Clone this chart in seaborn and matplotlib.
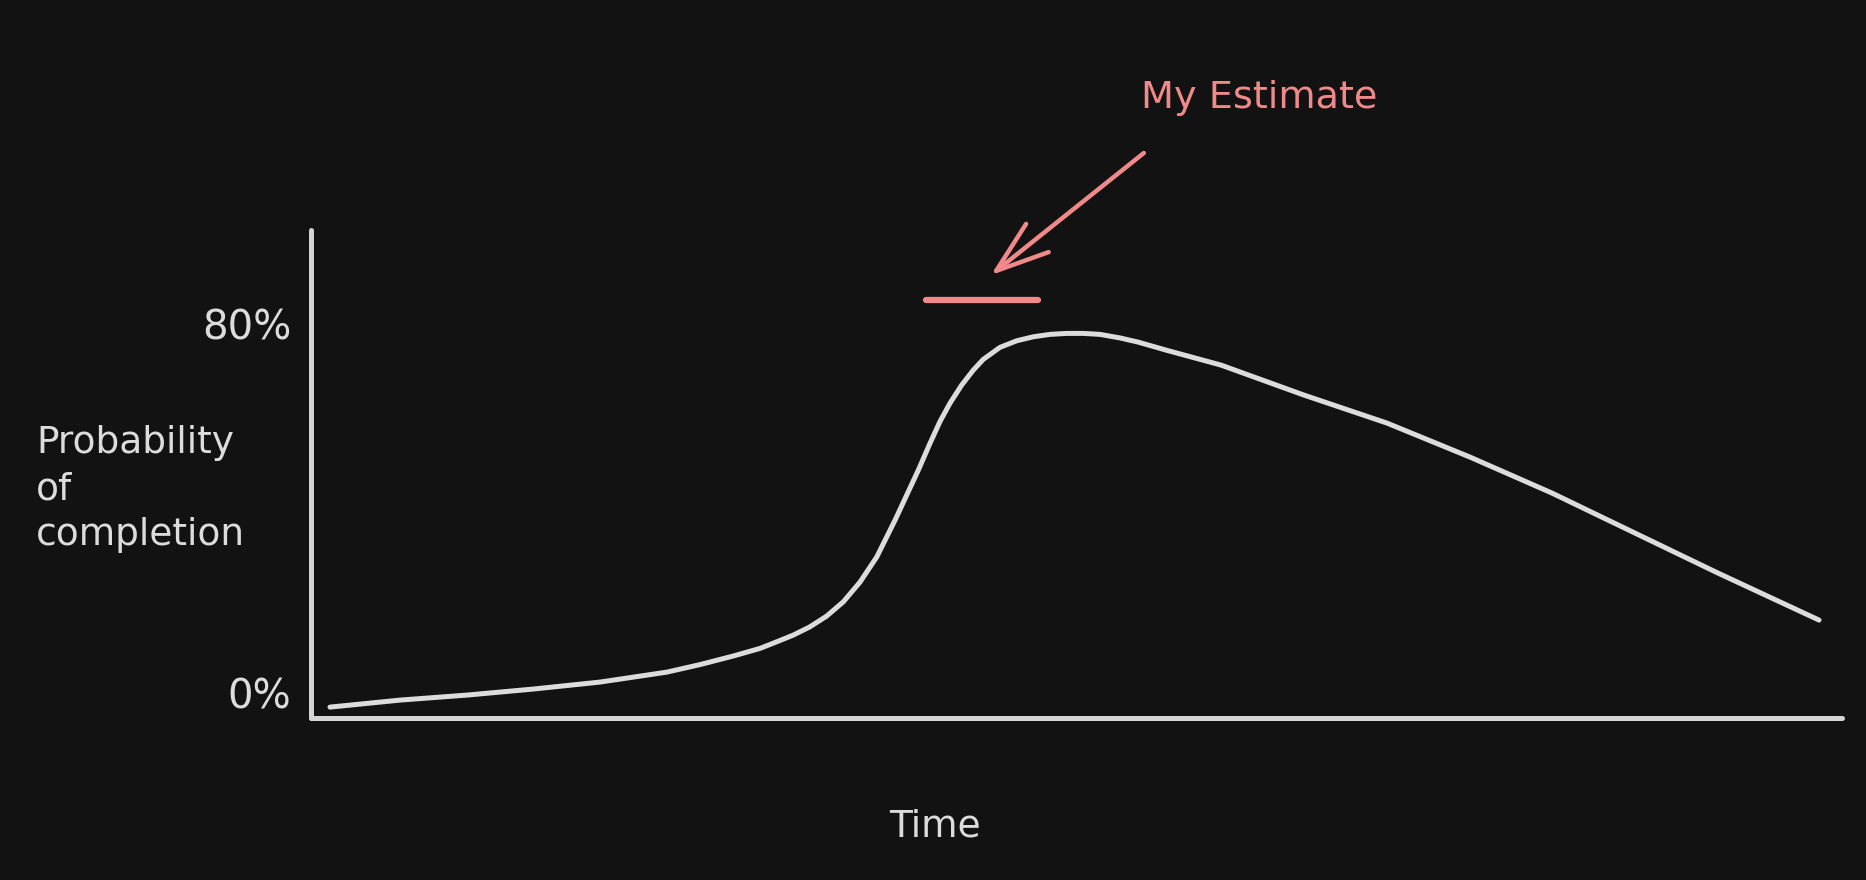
import matplotlib
matplotlib.use("Agg")
import matplotlib.pyplot as plt
import seaborn as sns
import pandas as pd

# ---- data ----
time = [1.24, 5.81, 10.19, 14.50, 18.88, 23.25, 25.41, 27.56, 29.33, 30.42,
        31.50, 32.59, 33.68, 34.77, 35.86, 36.95, 38.15, 38.91, 39.67, 40.43,
        41.08, 41.74, 42.50, 43.26, 43.91, 45.00, 46.09, 47.18, 48.27, 49.36,
        50.44, 51.54, 52.84, 54.02, 55.85, 59.44, 64.86, 70.28, 75.70, 81.06,
        86.48, 91.90, 98.50]
probability = [-3.04, -1.52, -0.43, 0.87, 2.39, 4.55, 6.18, 8.02, 9.69, 11.12,
               12.57, 14.37, 16.69, 19.79, 24.07, 29.49, 37.51, 42.93, 48.35,
               54.14, 58.86, 62.87, 66.78, 70.03, 72.35, 74.95, 76.38, 77.25,
               77.77, 77.98, 77.98, 77.77, 77.00, 76.10, 74.36, 71.11, 64.61,
               58.54, 51.17, 43.36, 34.69, 26.02, 15.83]

estimate_time = [40.2, 47.5]
estimate_prob = [85.2, 85.2]

arrow_tip = (44.4, 90.6)
arrow_tail = (54.4, 117.1)
label_pos = (54.2, 126.8)

ytick_values = [0, 80]
ytick_labels = ["0%", "80%"]

x_label = "Time"
y_label = "Probability\nof\ncompletion"
annotation_text = "My Estimate"

# ---- style ----
BG = "#121212"
FG = "#dcdcdc"
RED = "#f08a8a"

sns.set_theme(style="dark", rc={
    "axes.facecolor": BG,
    "figure.facecolor": BG,
    "axes.edgecolor": FG,
    "text.color": FG,
    "axes.labelcolor": FG,
    "xtick.color": FG,
    "ytick.color": FG,
    "axes.grid": False,
})
plt.rcParams["font.family"] = ["DejaVu Sans"]

W, H = 1866, 880
fig = plt.figure(figsize=(W / 100, H / 100), dpi=100)
ax = fig.add_axes([311 / W, (H - 718) / H, (1842 - 311) / W, (718 - 230) / H])

df = pd.DataFrame({"time": time, "probability": probability})
sns.lineplot(data=df, x="time", y="probability", ax=ax, color=FG,
             linewidth=3.6, estimator=None, solid_capstyle="round",
             solid_joinstyle="round")

ax.plot(estimate_time, estimate_prob, color=RED, linewidth=4.5,
        solid_capstyle="round", clip_on=False)

ax.annotate("", xy=arrow_tip, xytext=arrow_tail, xycoords="data",
            textcoords="data", annotation_clip=False,
            arrowprops=dict(arrowstyle="->,head_length=1.9,head_width=0.65",
                            color=RED, lw=3.2, mutation_scale=20,
                            shrinkA=0, shrinkB=0, capstyle="round"))
ax.text(label_pos[0], label_pos[1], annotation_text, color=RED, fontsize=27.5,
        ha="left", va="baseline", clip_on=False)

ax.set_xlim(0, 100)
ax.set_ylim(-5.4, 100.4)
ax.set_xticks([])
ax.set_yticks(ytick_values)
ax.set_yticklabels(ytick_labels, fontsize=29)
ax.tick_params(axis="y", length=0, pad=14)

for side in ["top", "right"]:
    ax.spines[side].set_visible(False)
for side in ["left", "bottom"]:
    ax.spines[side].set_visible(True)
    ax.spines[side].set_linewidth(3.6)
    ax.spines[side].set_color("#d4d4d4")
    ax.spines[side].set_capstyle("round")

ax.set_xlabel(x_label, fontsize=27, va="center", ha="center")
ax.xaxis.set_label_coords((935 - 311) / 1531, -(826 - 718) / 488)

ax.set_ylabel(y_label, fontsize=27, rotation=0, ha="left", va="center",
              linespacing=1.35)
ax.yaxis.set_label_coords((36 - 311) / 1531, (718 - 489) / 488)

fig.savefig("out.png", dpi=100, facecolor=BG)
